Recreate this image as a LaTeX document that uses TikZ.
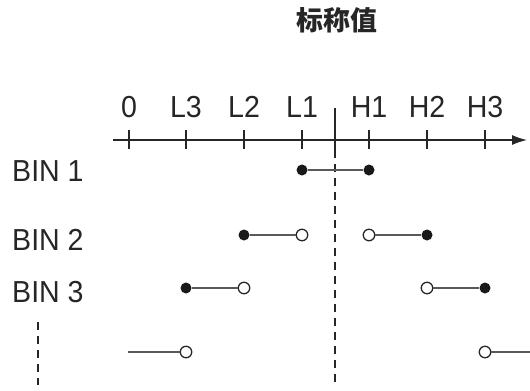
\documentclass[tikz,border=0pt]{standalone}
\usepackage{fontspec}
\setmainfont{Liberation Sans}[FakeStretch=0.94]
\newfontfamily\cjk{Noto Sans CJK SC}
\usetikzlibrary{arrows.meta}
\begin{document}
\begin{tikzpicture}[x=1bp,y=-1bp,
  lbl/.style={inner sep=0pt,font=\fontsize{30.5}{33}\selectfont,text=black!85},
  fdot/.style={circle,fill=black!90,inner sep=0pt,minimum size=11bp},
  odot/.style={circle,draw=black!85,fill=white,line width=1.3bp,inner sep=0pt,minimum size=11.5bp},
  seg/.style={draw=black!65,line width=1.6bp},
  axisline/.style={draw=black!85,line width=1.3bp},
  tickmark/.style={draw=black!85,line width=1.2bp},
  dashline/.style={draw=black!85,line width=1.2bp,dash pattern=on 8bp off 6bp}]
\useasboundingbox (0,0) rectangle (530,390);
% title
\node[inner sep=0pt,font=\cjk\bfseries\fontsize{27}{30}\selectfont,text=black!85] (title) at (337,20) {标称值};
% axis
\coordinate (ax0) at (113,140);
\coordinate (ax1) at (527,140);
\draw[axisline,-{Latex[length=15bp,width=10bp]}] (ax0) -- (ax1);
% ticks and labels
\foreach \n/\x/\t in {t0/129/0,tL3/186/L3,tL2/244/L2,tL1/302/L1,tH1/369/H1,tH2/427/H2,tH3/485/H3}{
  \coordinate (\n) at (\x,140);
  \draw[tickmark] ([yshift=-9bp]\n) -- ([yshift=10bp]\n);
  \node[lbl] (\n lab) at (\x,107) {\t};
}
% nominal line
\coordinate (ctop) at (335,108);
\coordinate (cmid) at (335,150);
\coordinate (cbot) at (335,385);
\draw[tickmark] (ctop) -- (cmid);
\draw[dashline] (cmid) -- (cbot);
% bin labels
\node[lbl,anchor=west] (bin1) at (12,171) {BIN 1};
\node[lbl,anchor=west] (bin2) at (12,240) {BIN 2};
\node[lbl,anchor=west] (bin3) at (12,292) {BIN 3};
\coordinate (ldtop) at (38,322);
\coordinate (ldbot) at (38,385);
\draw[dashline] (ldtop) -- (ldbot);
% BIN 1
\node[fdot] (b1a) at (302,170) {};
\node[fdot] (b1b) at (369,170) {};
\draw[seg] (b1a) -- (b1b);
% BIN 2
\node[fdot] (b2a) at (244,235) {};
\node[odot] (b2b) at (302,235) {};
\node[odot] (b2c) at (369,235) {};
\node[fdot] (b2d) at (427,235) {};
\draw[seg] (b2a) -- (b2b);
\draw[seg] (b2c) -- (b2d);
% BIN 3
\node[fdot] (b3a) at (186,288) {};
\node[odot] (b3b) at (244,288) {};
\node[odot] (b3c) at (427,288) {};
\node[fdot] (b3d) at (485,288) {};
\draw[seg] (b3a) -- (b3b);
\draw[seg] (b3c) -- (b3d);
% last row
\coordinate (b4l) at (128,352);
\node[odot] (b4a) at (186,352) {};
\node[odot] (b4b) at (485,352) {};
\coordinate (b4r) at (530,352);
\draw[seg] (b4l) -- (b4a);
\draw[seg] (b4b) -- (b4r);
\end{tikzpicture}
\end{document}
